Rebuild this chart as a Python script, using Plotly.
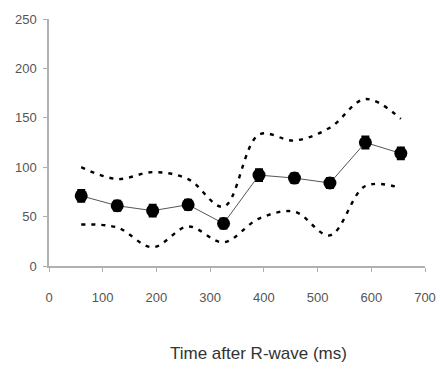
import plotly.graph_objects as go

time_ms = [60, 127, 193, 259, 325, 391, 457, 523, 589, 655]
mean_vals = [71, 61, 56, 62, 43, 92, 89, 84, 125, 114]
err_vals = [6, 5, 6, 5, 5, 6, 5, 5, 6, 6]
upper_vals = [100, 88, 95, 88, 60, 133, 127, 140, 169, 149]
lower_vals = [42, 39, 19, 40, 24, 48, 55, 31, 81, 79]

x_ticks = [0, 100, 200, 300, 400, 500, 600, 700]
y_ticks = [0, 50, 100, 150, 200, 250]

fig = go.Figure()
for vals in (upper_vals, lower_vals):
    fig.add_trace(go.Scatter(x=time_ms, y=vals, mode="lines",
                             line=dict(color="black", width=2.4, dash="4px,6px", shape="spline", smoothing=1.0),
                             showlegend=False, hoverinfo="skip"))
fig.add_trace(go.Scatter(x=time_ms, y=mean_vals, mode="lines+markers",
                         line=dict(color="#555", width=1),
                         marker=dict(color="black", size=13, symbol="circle"),
                         error_y=dict(type="data", array=err_vals, color="black", thickness=2, width=4),
                         showlegend=False))

axis_common = dict(showgrid=False, zeroline=False, showline=True, linecolor="#b0b0b0", linewidth=1.5,
                   ticks="outside", ticklen=4, tickcolor="#b0b0b0", tickwidth=1.2,
                   tickfont=dict(family="Liberation Sans, Arial, sans-serif", size=13, color="#555"))
fig.update_xaxes(range=[0, 700], tickvals=x_ticks, ticklabelstandoff=15, **axis_common)
fig.update_yaxes(range=[0, 250], tickvals=y_ticks, ticklabelstandoff=4, **axis_common)

fig.add_annotation(text="Time after R-wave (ms)", xref="paper", yref="paper", x=0.556, y=-0.355,
                   showarrow=False, xanchor="center", yanchor="middle",
                   font=dict(family="Liberation Sans, Arial, sans-serif", size=17, color="#333"))

fig.update_layout(width=448, height=372, margin=dict(l=49, r=14, t=15, b=106),
                  paper_bgcolor="white", plot_bgcolor="white")
fig.write_html("out.html")
